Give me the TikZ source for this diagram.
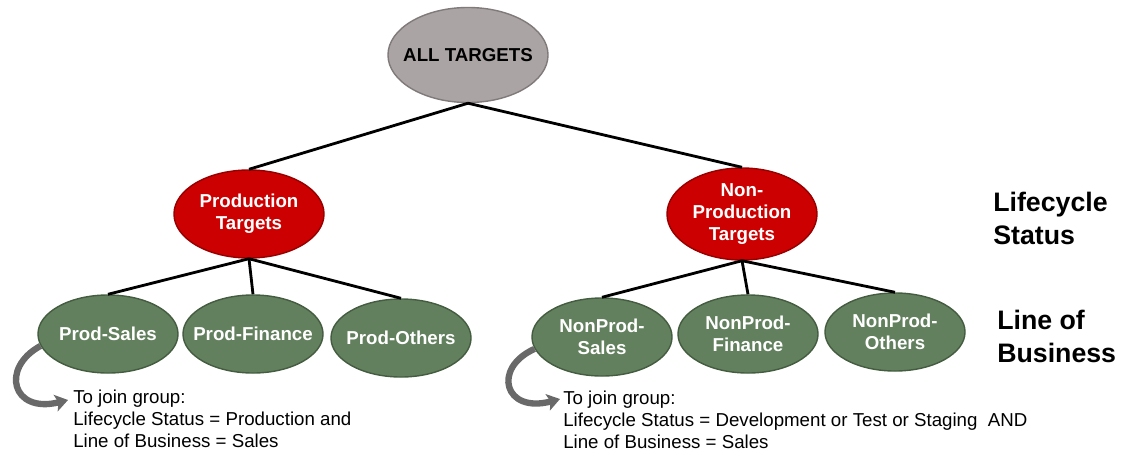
\documentclass[tikz,border=0pt]{standalone}
\usepackage{fontspec}
\setmainfont{Liberation Sans}
\usetikzlibrary{shapes.geometric,arrows.meta}
\definecolor{alltargets}{RGB}{170,164,164}
\definecolor{alledge}{RGB}{128,122,122}
\definecolor{lifecycle}{RGB}{204,0,0}
\definecolor{lifecycleedge}{RGB}{150,0,0}
\definecolor{business}{RGB}{98,128,93}
\definecolor{businessedge}{RGB}{68,92,64}
\definecolor{joinarrow}{RGB}{105,105,105}

\begin{document}
\begin{tikzpicture}[x=0.025cm, y=-0.025cm]
            \useasboundingbox (0,0) rectangle (1122,455);
            \tikzstyle{ball} = [ellipse, inner sep=0pt, line width=1pt]
            \tikzstyle{balltext} = [font=\fontsize{13.3}{15.5}\selectfont\bfseries, align=center, inner sep=0pt]
            \tikzstyle{branch} = [line width=2pt, black]
            \tikzstyle{joinpath} = [line width=4.5pt, joinarrow, -{Stealth[length=9pt, width=12pt, inset=2pt]}]
            \tikzstyle{jointext} = [font=\fontsize{13.3}{15.6}\selectfont, align=left, inner sep=0pt, anchor=north west]
            \tikzstyle{leveltext} = [font=\fontsize{19}{23.5}\selectfont\bfseries, align=left, inner sep=0pt, anchor=north west]
            \tikzset{
                grayball/.style={ball, fill=alltargets, draw=alledge, minimum width=4cm, minimum height=2.375cm,
                    label={[balltext, text=black]center:#1}},
                redball/.style={ball, fill=lifecycle, draw=lifecycleedge, minimum width=3.75cm, minimum height=2.2cm,
                    label={[balltext, text=white]center:#1}},
                greenball/.style={ball, fill=business, draw=businessedge, minimum width=3.5cm, minimum height=1.95cm,
                    label={[balltext, text=white]center:#1}}
            }

            \node[grayball={ALL TARGETS}] (all) at (468, 55) {};

            \node[redball={Production\\Targets}] (prod) at (249, 214) {};
            \node[redball={Non-\\Production\\Targets}, minimum height=2.3cm] (nonprod) at (742, 214) {};

            \node[greenball={Prod-Sales}] (ps) at (108, 334) {};
            \node[greenball={Prod-Finance}] (pf) at (253, 334) {};
            \node[greenball={Prod-Others}] (po) at (401, 338) {};
            \node[greenball={NonProd-\\Sales}] (nps) at (602, 337) {};
            \node[greenball={NonProd-\\Finance}] (npf) at (748, 334) {};
            \node[greenball={NonProd-\\Others}] (npo) at (895, 332) {};

            \draw[branch] (all.south) -- (prod.north);
            \draw[branch] (all.south) -- (nonprod.north);
            \draw[branch] (prod.south) -- (ps.north);
            \draw[branch] (prod.south) -- (pf.north);
            \draw[branch] (prod.south) -- (po.north);
            \draw[branch] (nonprod.south) -- (nps.north);
            \draw[branch] (nonprod.south) -- (npf.north);
            \draw[branch] (nonprod.south) -- (npo.north);

            \node[leveltext] (status) at (993, 192) {Lifecycle\\Status};
            \node[leveltext] (lob) at (997, 310) {Line of\\Business};

            \node[jointext] (joinl) at (73, 390) {To join group:\\Lifecycle Status = Production and\\Line of Business = Sales};
            \node[jointext] (joinr) at (563, 391) {To join group:\\Lifecycle Status = Development or Test or Staging~ AND\\Line of Business = Sales};
            \coordinate (tipl) at (68, 400);
            \coordinate (tipr) at (560, 399);

            \draw[joinpath] (ps.190) .. controls (0, 368) and (12, 414) .. (tipl);
            \draw[joinpath] (nps.190) .. controls (492, 368) and (504, 414) .. (tipr);
        \end{tikzpicture}
\end{document}
